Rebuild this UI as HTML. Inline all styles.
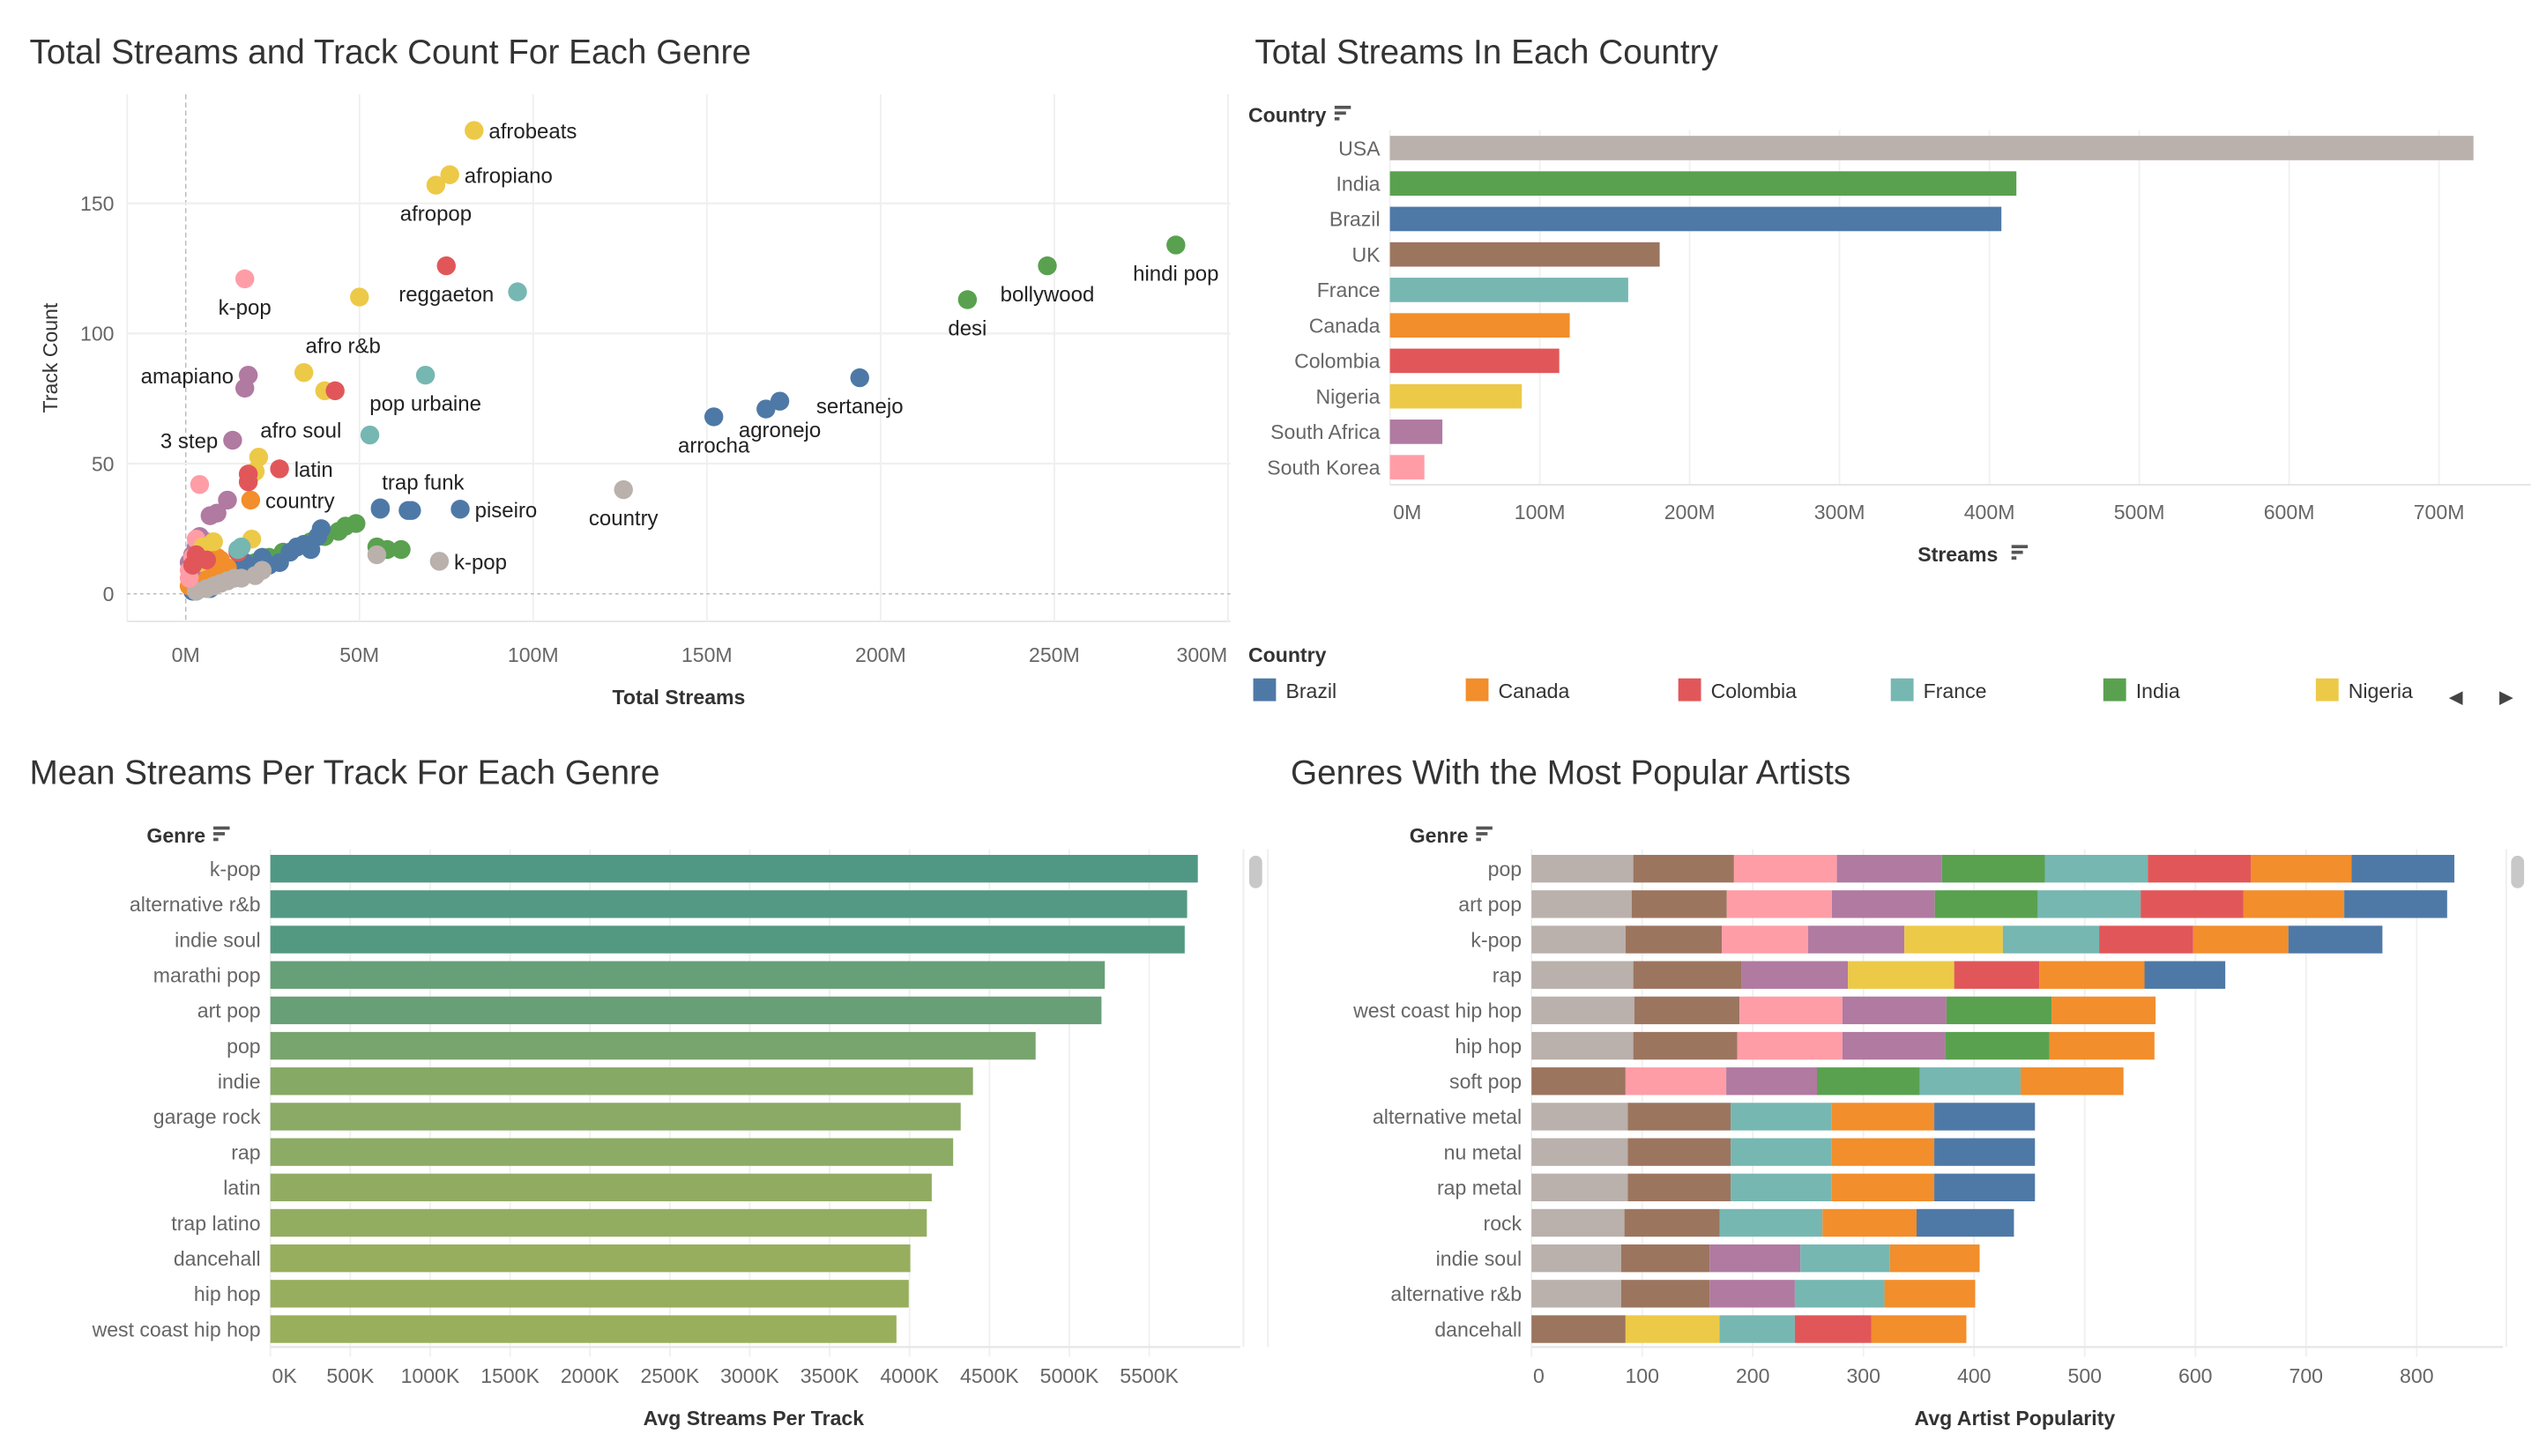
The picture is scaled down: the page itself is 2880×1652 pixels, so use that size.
<!DOCTYPE html>
<html><head><meta charset="utf-8"><title>Spotify Genre Dashboard</title>
<style>
html,body{margin:0;padding:0;background:#fff;}
svg{display:block;font-family:"Liberation Sans",sans-serif;}
.title{font-size:21px;fill:#333;}
.tick{font-size:12.5px;fill:#666;}
.axt{font-size:12.5px;fill:#333;font-weight:bold;}
.lbl{font-size:13px;fill:#222;}
</style></head>
<body>
<svg id="dash" width="2880" height="1652" viewBox="0 0 1560 895" xmlns="http://www.w3.org/2000/svg">
<text class="title" x="18" y="39">Total Streams and Track Count For Each Genre</text>
<text class="title" x="771" y="39">Total Streams In Each Country</text>
<text class="title" x="18" y="482">Mean Streams Per Track For Each Genre</text>
<text class="title" x="793" y="482">Genres With the Most Popular Artists</text>
<g id="scatter"></g>
<g id="country"></g>
<g id="legend"></g>
<g id="mean"></g>
<g id="stack"></g>
</svg>
<script>
const countryNames = ["Brazil","Canada","Colombia","France","India","Nigeria","South Africa","South Korea","UK","USA"];
const countryColors = {"Brazil":"#4e79a7","Canada":"#f28e2b","Colombia":"#e15759","France":"#76b7b2","India":"#59a14f","Nigeria":"#edc948","South Africa":"#b07aa1","South Korea":"#ff9da7","UK":"#9c755f","USA":"#bab0ac"};

// ---------- scatter data ----------
const scatterStreamsM = [3,5,7,8,10,13,16,20,24,28,32,36,40,44,46,49,55,58,62,
 2,4,6,8,10,13,15,17,22,27,30,32,34,36,38,39,56,64,65,3,5,7,9,12,14,19,24,
 1,2,3,4,5,6,7,8,9,10,12,18.7,2,4,6,8,10,
 3,6,10,14,20,22,55,126,73,8,12,16,
 2,3,4,6,7,9,12,13.5,17,18,1,2,
 1,2,3,4,17,1,
 5,8,19,20,21,40,34,50,72,76,83,19,4,
 3,6,15,18,18,27,43,75,2,
 15,16,53,69,95.5,
 285,248,225,194,171,167,152,79,56];
const scatterTracks = [2,3,4,5,6,8,10,12,14,16,18,20,22,24,26,27,18,17,17,
 1,2,4,5,6,8,10,12,14,12,16,18,19,17,22,25,33,32,32,1,3,2,4,5,8,9,11,
 3,5,7,9,10,12,13,11,14,13,10,36,8,11,9,7,10,
 1,2,4,6,7,9,15,40,12.5,3,5,6,
 10,18,22,20,30,31,36,59,79,84,12,15,
 6,14,21,42,121,9,
 18,20,46,47,52.5,78,85,114,157,161,178,21,12,
 15,13,16,43,46,48,78,126,11,
 17,18,61,84,116,
 134,126,113,83,74,71,68,32.5,32.5];
const scatterCountry = ["India","India","India","India","India","India","India","India","India","India","India","India","India","India","India","India","India","India","India",
 "Brazil","Brazil","Brazil","Brazil","Brazil","Brazil","Brazil","Brazil","Brazil","Brazil","Brazil","Brazil","Brazil","Brazil","Brazil","Brazil","Brazil","Brazil","Brazil","Brazil","Brazil","Brazil","Brazil","Brazil","Brazil","Brazil","Brazil",
 "Canada","Canada","Canada","Canada","Canada","Canada","Canada","Canada","Canada","Canada","Canada","Canada","Canada","Canada","Canada","Canada","Canada",
 "USA","USA","USA","USA","USA","USA","USA","USA","USA","USA","USA","USA",
 "South Africa","South Africa","South Africa","South Africa","South Africa","South Africa","South Africa","South Africa","South Africa","South Africa","South Africa","South Africa",
 "South Korea","South Korea","South Korea","South Korea","South Korea","South Korea",
 "Nigeria","Nigeria","Nigeria","Nigeria","Nigeria","Nigeria","Nigeria","Nigeria","Nigeria","Nigeria","Nigeria","Nigeria","Nigeria",
 "Colombia","Colombia","Colombia","Colombia","Colombia","Colombia","Colombia","Colombia","Colombia",
 "France","France","France","France","France",
 "India","India","India","Brazil","Brazil","Brazil","Brazil","Brazil","Brazil"];
const scatterLabels = ["","","","","","","","","","","","","","","","","","","",
 "","","","","","","","","","","","","","","","","","","","","","","","","","","",
 "","","","","","","","","","","","country","","","","","",
 "","","","","","","","country","k-pop","","","",
 "","","","","","","","3 step","","amapiano","","",
 "","","","","k-pop","",
 "","","","","afro soul","","afro r&b","","afropop","afropiano","afrobeats","","",
 "","","","","","latin","","reggaeton","",
 "","","","pop urbaine","",
 "hindi pop","bollywood","desi","sertanejo","agronejo","","arrocha","piseiro","trap funk"];
const scatterLabelSide = ["","","","","","","","","","","","","","","","","","","",
 "","","","","","","","","","","","","","","","","","","","","","","","","","","",
 "","","","","","","","","","","","r","","","","","",
 "","","","","","","","b","r","","","",
 "","","","","","","","l","","l","","",
 "","","","","b","",
 "","","","","tr","","tr","","b","r","r","","",
 "","","","","","r","","b","",
 "","","","b","",
 "b","b","b","b","b","","b","r","tr"];
const scatterXTicks = [0,50,100,150,200,250,300];
const scatterXTickLabels = ["0M","50M","100M","150M","200M","250M","300M"];
const scatterYTicks = [0,50,100,150];

// ---------- country bars ----------
const barCountries = ["USA","India","Brazil","UK","France","Canada","Colombia","Nigeria","South Africa","South Korea"];
const barStreamsM = [723,418,408,180,159,120,113,88,35,23];
const barTicks = [0,100,200,300,400,500,600,700];
const barTickLabels = ["0M","100M","200M","300M","400M","500M","600M","700M"];

const legendItems = ["Brazil","Canada","Colombia","France","India","Nigeria"];

// ---------- mean streams ----------
const meanGenres = ["k-pop","alternative r&b","indie soul","marathi pop","art pop","pop","indie","garage rock","rap","latin","trap latino","dancehall","hip hop","west coast hip hop"];
const meanValuesK = [5804,5737,5722,5222,5201,4789,4397,4320,4273,4139,4108,4005,3995,3918];
const meanTicks = [0,500,1000,1500,2000,2500,3000,3500,4000,4500,5000,5500];
const meanTickLabels = ["0K","500K","1000K","1500K","2000K","2500K","3000K","3500K","4000K","4500K","5000K","5500K"];

// ---------- stacked popularity ----------
const stackGenres = ["pop","art pop","k-pop","rap","west coast hip hop","hip hop","soft pop","alternative metal","nu metal","rap metal","rock","indie soul","alternative r&b","dancehall"];
const stackOrder = ["USA","UK","South Korea","South Africa","India","Nigeria","France","Colombia","Canada","Brazil"];
const popUSA =         [92,90.5,85,92,93,92,0,87,87,87,84,81,81,0];
const popUK =          [91,86,87,98,95,94,85,93,93,93,86,80,80,85];
const popSouthKorea =  [93,95,78,0,93,95,91,0,0,0,0,0,0,0];
const popSouthAfrica = [95,93,87,96,94,93,82,0,0,0,0,82,77,0];
const popIndia =       [93,93,0,0,95,94,93,0,0,0,0,0,0,0];
const popNigeria =     [0,0,89,96,0,0,0,0,0,0,0,0,0,85];
const popFrance =      [93,93,87,0,0,0,91,91,91,91,93,81,81,68];
const popColombia =    [93,93,85,77,0,0,0,0,0,0,0,0,0,69];
const popCanada =      [91,91,86,95,94,95,93,93,93,93,85,81,82,86];
const popBrazil =      [93,93,85,73,0,0,0,91,91,91,88,0,0,0];
const stackTicks = [0,100,200,300,400,500,600,700,800];

const NS = "http://www.w3.org/2000/svg";
function mk(parent, tag, attrs, text){
  const e = document.createElementNS(NS, tag);
  for (const k in attrs) e.setAttribute(k, attrs[k]);
  if (text !== undefined) e.textContent = text;
  parent.appendChild(e);
  return e;
}
function sortIcon(parent, x, y){
  const g = mk(parent, "g", {});
  
  
  mk(g,"rect",{x:x,y:y,width:10,height:2,fill:"#555"});
  mk(g,"rect",{x:x,y:y+3.5,width:7,height:2,fill:"#555"});
  mk(g,"rect",{x:x,y:y+7,width:3,height:2,fill:"#555"});
}

(function(){
  const g = document.getElementById("scatter");
  const sx = v => 114 + v * (213.5/100);
  const sy = v => 365 - v * (160/100);
  mk(g,"line",{x1:78,y1:382,x2:756,y2:382,stroke:"#e6e6e6","stroke-width":1});
  mk(g,"line",{x1:78,y1:58,x2:78,y2:382,stroke:"#eeeeee","stroke-width":1});
  scatterXTicks.forEach((t,i)=>{
    const x = sx(t);
    if (t === 0) mk(g,"line",{x1:x,y1:58,x2:x,y2:382,stroke:"#bbb","stroke-width":0.8,"stroke-dasharray":"3,2"});
    else mk(g,"line",{x1:x,y1:58,x2:x,y2:382,stroke:"#efefef","stroke-width":1});
    const tx = mk(g,"text",{x:(t===300? x-16 : x),y:407,"text-anchor":"middle",class:"tick"},scatterXTickLabels[i]);
    
    
  });
  scatterYTicks.forEach(t=>{
    const y = sy(t);
    if (t === 0) mk(g,"line",{x1:78,y1:y,x2:756,y2:y,stroke:"#bbb","stroke-width":0.8,"stroke-dasharray":"2,2"});
    else mk(g,"line",{x1:78,y1:y,x2:756,y2:y,stroke:"#efefef","stroke-width":1.2});
    const tx = mk(g,"text",{x:70,y:y+4.5,"text-anchor":"end",class:"tick"},String(t));
    
    
  });
  const yt = mk(g,"text",{x:0,y:0,transform:"translate(35,220) rotate(-90)","text-anchor":"middle",class:"axt",style:"font-weight:normal;fill:#333"},"Track Count");
  
  
  const xt = mk(g,"text",{x:417,y:433,"text-anchor":"middle",class:"axt"},"Total Streams");
  
  
  scatterStreamsM.forEach((v,i)=>{
    const c = mk(g,"circle",{cx:sx(v),cy:sy(scatterTracks[i]),r:5.8,fill:countryColors[scatterCountry[i]]});
    
    
  });
  scatterLabels.forEach((lab,i)=>{
    if (!lab) return;
    const x = sx(scatterStreamsM[i]), y = sy(scatterTracks[i]);
    const side = scatterLabelSide[i];
    let ax = x + 9, ay = y + 5, anchor = "start";
    if (side === "b") { ax = x; ay = y + 22; anchor = "middle"; }
    if (side === "l") { ax = x - 9; ay = y + 5; anchor = "end"; }
    if (side === "tr") { ax = x + 1; ay = y - 12; anchor = "start"; }
    const t = mk(g,"text",{x:ax,y:ay,"text-anchor":anchor,class:"lbl"},lab);
    
    
  });
})();

(function(){
  const g = document.getElementById("country");
  const x0 = 854, sx = v => x0 + v * 0.921;
  const rowY = i => 91 + i * 21.8;
  const h = mk(g,"text",{x:767,y:75,class:"axt",style:"font-size:12.5px"},"Country");
  
  
  sortIcon(g, 820, 65);
  barTicks.forEach((t,i)=>{
    const x = sx(t);
    mk(g,"line",{x1:x,y1:80,x2:x,y2:298,stroke:"#f0f0f0","stroke-width":1});
    const tx = mk(g,"text",{x:(t===0? x+2 : x),y:319,"text-anchor":(t===0?"start":"middle"),class:"tick"},barTickLabels[i]);
    
    
  });
  mk(g,"line",{x1:854,y1:298,x2:1555,y2:298,stroke:"#e6e6e6","stroke-width":1.2});
  barCountries.forEach((c,i)=>{
    const y = rowY(i);
    const r = mk(g,"rect",{x:x0,y:y-7.5,width:sx(barStreamsM[i])-x0,height:15,fill:countryColors[c]});
    
    
    const t = mk(g,"text",{x:848,y:y+4.5,"text-anchor":"end",class:"tick"},c);
    
    
  });
  const xt = mk(g,"text",{x:1203,y:345,"text-anchor":"middle",class:"axt"},"Streams");
  
  
  sortIcon(g, 1236, 335);
})();

(function(){
  const g = document.getElementById("legend");
  const t = mk(g,"text",{x:767,y:407,class:"axt",style:"font-size:12.5px"},"Country");
  
  
  legendItems.forEach((c,i)=>{
    const x = 770 + i * 130.6;
    const e = mk(g,"g",{});
    
    
    mk(e,"rect",{x:x,y:417,width:14,height:14,fill:countryColors[c]});
    mk(e,"text",{x:x+20,y:429,class:"tick",style:"fill:#333"},c);
  });
  const l = mk(g,"text",{x:1509,y:432,"text-anchor":"middle",style:"font-size:11px;fill:#444"},"◀");
  
  
  const r = mk(g,"text",{x:1540,y:432,"text-anchor":"middle",style:"font-size:11px;fill:#444"},"▶");
  
  
})();

(function(){
  const g = document.getElementById("mean");
  const x0 = 166, sx = v => x0 + v * (49.1/500);
  const rowY = i => 534 + i * 21.77;
  const h = mk(g,"text",{x:90,y:518,class:"axt",style:"font-size:12.5px"},"Genre");
  
  
  sortIcon(g, 131, 508);
  meanTicks.forEach((t,i)=>{
    const x = sx(t);
    mk(g,"line",{x1:x,y1:522,x2:x,y2:834,stroke:"#f0f0f0","stroke-width":1});
    const tx = mk(g,"text",{x:(t===0? x+1 : x),y:850,"text-anchor":(t===0?"start":"middle"),class:"tick"},meanTickLabels[i]);
    
    
  });
  mk(g,"line",{x1:x0,y1:828,x2:762,y2:828,stroke:"#e6e6e6","stroke-width":1.2});
  const vmax = Math.max(...meanValuesK), vmin = Math.min(...meanValuesK);
  const lo = [0x9a,0xaf,0x5c], hi = [0x50,0x98,0x84];
  meanGenres.forEach((gn,i)=>{
    const f = (meanValuesK[i]-vmin)/(vmax-vmin);
    const col = "rgb(" + lo.map((c,k)=>Math.round(c + (hi[k]-c)*f)).join(",") + ")";
    const y = rowY(i);
    const r = mk(g,"rect",{x:x0,y:y-8.5,width:sx(meanValuesK[i])-x0,height:17,fill:col});
    
    
    const t = mk(g,"text",{x:160,y:y+4.5,"text-anchor":"end",class:"tick"},gn);
    
    
  });
  const xt = mk(g,"text",{x:463,y:876,"text-anchor":"middle",class:"axt"},"Avg Streams Per Track");
  
  
  mk(g,"line",{x1:764,y1:522,x2:764,y2:828,stroke:"#eee","stroke-width":1});
  mk(g,"line",{x1:779,y1:522,x2:779,y2:828,stroke:"#eee","stroke-width":1});
  const sb = mk(g,"rect",{x:767.5,y:526,width:8,height:20,rx:4,fill:"#c8c8c8"});
  
  
})();

(function(){
  const g = document.getElementById("stack");
  const x0 = 941, sx = v => x0 + v * 0.68;
  const rowY = i => 534 + i * 21.77;
  const series = {"USA":popUSA,"UK":popUK,"South Korea":popSouthKorea,"South Africa":popSouthAfrica,"India":popIndia,"Nigeria":popNigeria,"France":popFrance,"Colombia":popColombia,"Canada":popCanada,"Brazil":popBrazil};
  const h = mk(g,"text",{x:866,y:518,class:"axt",style:"font-size:12.5px"},"Genre");
  
  
  sortIcon(g, 907, 508);
  stackTicks.forEach(t=>{
    const x = sx(t);
    mk(g,"line",{x1:x,y1:522,x2:x,y2:834,stroke:"#f0f0f0","stroke-width":1});
    const tx = mk(g,"text",{x:(t===0? x+1 : x),y:850,"text-anchor":(t===0?"start":"middle"),class:"tick"},String(t));
    
    
  });
  mk(g,"line",{x1:x0,y1:828,x2:1538,y2:828,stroke:"#e6e6e6","stroke-width":1.2});
  stackGenres.forEach((gn,i)=>{
    const y = rowY(i);
    let acc = 0;
    stackOrder.forEach(c=>{
      const v = series[c][i];
      if (!v) return;
      const r = mk(g,"rect",{x:sx(acc),y:y-8.5,width:sx(acc+v)-sx(acc),height:17,fill:countryColors[c]});
      
      
      acc += v;
    });
    const t = mk(g,"text",{x:935,y:y+4.5,"text-anchor":"end",class:"tick"},gn);
    
    
  });
  const xt = mk(g,"text",{x:1238,y:876,"text-anchor":"middle",class:"axt"},"Avg Artist Popularity");
  
  
  mk(g,"line",{x1:1540,y1:522,x2:1540,y2:828,stroke:"#eee","stroke-width":1});
  const sb = mk(g,"rect",{x:1543,y:526,width:8,height:20,rx:4,fill:"#c8c8c8"});
  
  
})();
</script>
</body></html>
